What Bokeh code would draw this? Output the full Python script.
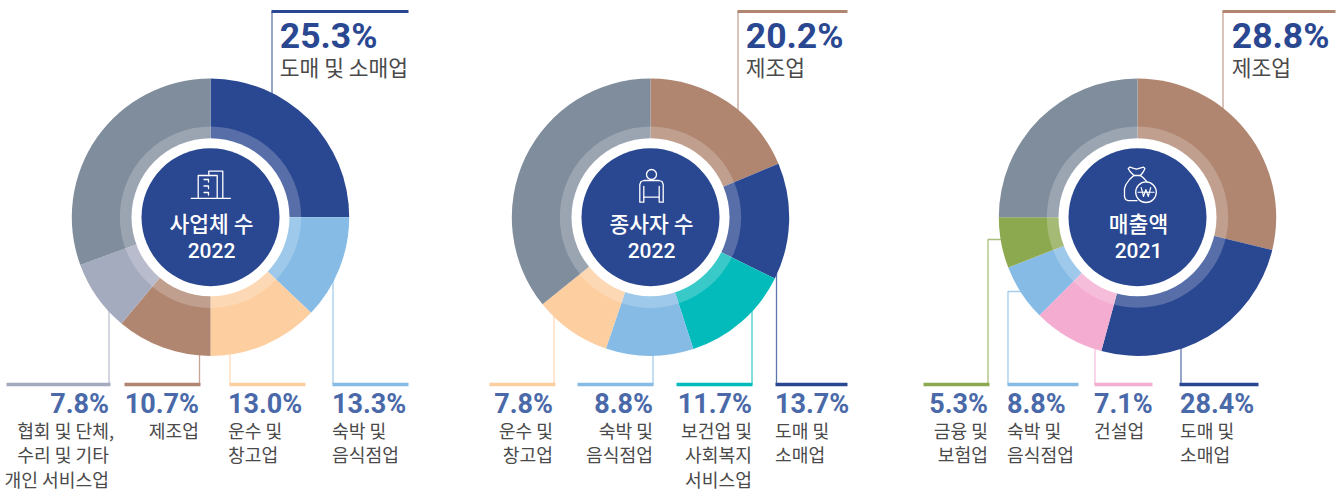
from bokeh.plotting import figure
from bokeh.models import ColumnDataSource, Range1d
from bokeh.core.properties import value
from bokeh.embed import file_html
from bokeh.resources import INLINE
from math import pi

# ---- data -------------------------------------------------------------
biz_title = ["사업체 수", "2022"]
biz_slices = ["도매 및 소매업", "숙박 및 음식점업", "운수 및 창고업", "제조업", "협회 및 단체, 수리 및 기타 개인 서비스업", "기타"]
biz_shares = [25.0, 12.1, 12.9, 11.1, 8.3, 30.6]   # share of the ring as drawn
biz_colors = ["#2a4791", "#85bbe5", "#fdcea0", "#b08671", "#a5abbf", "#808d9c"]

emp_title = ["종사자 수", "2022"]
emp_slices = ["제조업", "도매 및 소매업", "보건업 및 사회복지 서비스업", "숙박 및 음식점업", "운수 및 창고업", "기타"]
emp_shares = [18.7, 13.6, 12.7, 10.2, 9.0, 35.8]
emp_colors = ["#b08671", "#2a4791", "#04bbbb", "#85bbe5", "#fdcea0", "#808d9c"]

rev_title = ["매출액", "2021"]
rev_slices = ["제조업", "도매 및 소매업", "건설업", "숙박 및 음식점업", "금융 및 보험업", "기타"]
rev_shares = [28.8, 25.4, 8.3, 6.6, 5.9, 25.0]
rev_colors = ["#b08671", "#2a4791", "#f4acd0", "#85bbe5", "#8da950", "#808d9c"]

# callouts: value text, label lines
top_callouts = [
    ("25.3%", "도매 및 소매업"),
    ("20.2%", "제조업"),
    ("28.8%", "제조업"),
]
bottom_callouts = [
    ("7.8%", ["협회 및 단체,", "수리 및 기타", "개인 서비스업"]),
    ("10.7%", ["제조업"]),
    ("13.0%", ["운수 및", "창고업"]),
    ("13.3%", ["숙박 및", "음식점업"]),
    ("7.8%", ["운수 및", "창고업"]),
    ("8.8%", ["숙박 및", "음식점업"]),
    ("11.7%", ["보건업 및", "사회복지", "서비스업"]),
    ("13.7%", ["도매 및", "소매업"]),
    ("5.3%", ["금융 및", "보험업"]),
    ("8.8%", ["숙박 및", "음식점업"]),
    ("7.1%", ["건설업"]),
    ("28.4%", ["도매 및", "소매업"]),
]

# ---- layout -----------------------------------------------------------
W, H = 1343, 491
NAVY = "#2a4791"
PCT_LIGHT = "#4a69a9"
GREY_TEXT = "#4a4a4a"
KR = value("Noto Sans CJK KR")
RB = value("Roboto")

p = figure(width=W, height=H, output_backend="svg", toolbar_location=None,
           x_range=Range1d(0, W), y_range=Range1d(0, H),
           min_border=0, outline_line_color=None, background_fill_color="white",
           border_fill_color="white", margin=(0, 0, 0, 0))
p.axis.visible = False
p.grid.visible = False


def Y(v):
    if isinstance(v, (list, tuple)):
        return [H - a for a in v]
    return H - v


def poly(xs, ys, color="white", width=1.3, alpha=1.0):
    p.line(xs, Y(ys), line_color=color, line_width=width, line_alpha=alpha,
           line_join="round", line_cap="round")


# leader bars and thin risers, beneath the rings
leaders = [
    (271, 408, 11, 3, 271.5, 120, None, "#2a4791"),
    (737, 847, 11, 3, 737.5, 120, None, "#b08671"),
    (1222, 1335, 11, 3, 1222.5, 120, None, "#b08671"),
    (6, 110, 384, 3.5, 108.5, 310, None, "#a5abbf"),
    (124, 200, 384, 3.5, 199, 340, None, "#b08671"),
    (229, 305, 384, 3.5, 229.5, 340, None, "#fdcea0"),
    (332, 408, 384, 3.5, 332.5, 270, None, "#85bbe5"),
    (489, 555, 384, 3.5, 553.5, 310, None, "#fdcea0"),
    (577, 653, 384, 3.5, 652.5, 340, None, "#85bbe5"),
    (676, 752, 384, 3.5, 751.5, 310, None, "#04bbbb"),
    (775, 847, 384, 3.5, 776, 270, None, "#2a4791"),
    (923, 989, 384, 3.5, 987.5, 239, 1010, "#8da950"),
    (1007, 1078, 384, 3.5, 1007.5, 291, 1030, "#85bbe5"),
    (1094, 1152, 384, 3.5, 1094.5, 340, None, "#f4acd0"),
    (1179, 1258, 384, 3.5, 1180.5, 340, None, "#2a4791"),
]
for x0, x1, y, th, rx, ry, ex, col in leaders:
    xs, ys = [rx, rx], [y, ry]
    if ex is not None:
        xs.append(ex)
        ys.append(ry)
    p.line(xs, Y(ys), line_color=col, line_width=1.3, line_alpha=0.75)
    p.line([x0, x1], Y([y, y]), line_color=col, line_width=th)


def donut(cx, cy, shares, colors, title):
    total = sum(shares)
    starts, ends, run = [], [], 0.0
    for s in shares:
        starts.append(pi / 2 - 2 * pi * run / total)
        run += s
        ends.append(pi / 2 - 2 * pi * run / total)
    src = ColumnDataSource(dict(start=starts, end=ends, color=colors))
    p.annular_wedge(x=cx, y=Y(cy), inner_radius=0, outer_radius=138.7,
                    start_angle="start", end_angle="end", direction="clock",
                    fill_color="color", line_color=None, source=src)
    p.circle(x=cx, y=Y(cy), radius=90.7, fill_color="white", fill_alpha=0.21, line_color=None)
    p.circle(x=cx, y=Y(cy), radius=79, fill_color="white", line_color=None)
    p.circle(x=cx, y=Y(cy), radius=69, fill_color=NAVY, line_color=None)
    p.text(x=[cx + 1], y=[Y(cy + 5.5)], text=[title[0]], text_color="white",
           text_font=value("Noto Sans CJK KR Medium"), text_font_size="21.5px",
           text_align="center", text_baseline="middle")
    p.text(x=[cx + 1], y=[Y(cy + 33)], text=[title[1]], text_color="white",
           text_font=value("Roboto Medium"), text_font_size="21px", text_align="center",
           text_baseline="middle")


donut(210, 216.7, biz_shares, biz_colors, biz_title)
donut(650, 216.7, emp_shares, emp_colors, emp_title)
donut(1137, 216.7, rev_shares, rev_colors, rev_title)

# icons in the centres
# building
poly([190.7, 230], [197.8, 197.8])
poly([197.7, 197.7, 216.7, 216.7], [197.8, 175, 175, 197.8])
poly([208.3, 208.3, 222.3, 222.3], [175, 170.7, 170.7, 197.8])
for wy in (179, 185.5, 192):
    poly([203.5, 208, 208], [wy, wy, wy + 2.5])
# person
p.circle(x=651, y=Y(174), radius=5, fill_color=None, line_color="white", line_width=1.3)
poly([643.3, 643.3, 639.3, 639.3, 640.5, 643.5, 658.5, 661.5, 662.7, 662.7, 658.7, 658.7],
     [186, 201.7, 201.7, 184, 181, 180, 180, 181, 184, 201.7, 201.7, 186])
poly([643.3, 658.7], [196.7, 196.7])
# money bag
p.circle(x=1145.5, y=Y(191.7), radius=10.3, fill_color=None, line_color="white", line_width=1.3)
poly([1133.5, 1129.5, 1127.7, 1129.5, 1132.5, 1136, 1139.5, 1143, 1144.4, 1143, 1140],
     [175, 171, 168, 166.6, 167.6, 168.6, 167.6, 166.6, 168, 171, 175])
poly([1133.3, 1140], [175, 175])
poly([1133.3, 1129, 1125.5, 1124, 1124, 1125, 1127.5, 1136.5],
     [175, 179, 184, 188, 196, 199, 200.2, 200.2])
poly([1140, 1143, 1146.5], [175, 177.5, 181.4])
poly([1140.7, 1143, 1145.4, 1147.8, 1150.2], [187, 196, 189, 196, 187], width=1.1)
poly([1137.5, 1153.5], [191.8, 191.8], width=1.1)

# top callouts
for (pct, lab), x in zip(top_callouts, (279.3, 745.3, 1231.3)):
    p.text(x=[x], y=[Y(35.5)], text=[pct], text_color=NAVY, text_font=RB,
           text_font_size="35.5px", text_font_style="bold", text_baseline="middle")
    p.text(x=[x], y=[Y(66)], text=[lab], text_color=GREY_TEXT, text_font=KR,
           text_font_size="21.5px", text_baseline="middle")

# bottom callouts: anchor x and side
anchors = [(108.5, "right"), (198.5, "right"), (227.5, "left"), (331.5, "left"),
           (552.5, "right"), (652.5, "right"), (751.5, "right"), (774.5, "left"),
           (987.5, "right"), (1006.5, "left"), (1093.5, "left"), (1179.5, "left")]
for (pct, lines), (x, side) in zip(bottom_callouts, anchors):
    p.text(x=[x], y=[Y(403)], text=[pct], text_color=PCT_LIGHT, text_font=RB,
           text_font_size="27px", text_font_style="bold", text_align=side,
           text_baseline="middle")
    for i, ln in enumerate(lines):
        lx = x + 5 if ln.endswith(",") else x   # the comma hangs past the column
        p.text(x=[lx], y=[Y(429 + 24.5 * i)], text=[ln], text_color=GREY_TEXT, text_font=KR,
               text_font_size="18.2px", text_align=side, text_baseline="middle")

open("out.html", "w").write(file_html(p, INLINE))
